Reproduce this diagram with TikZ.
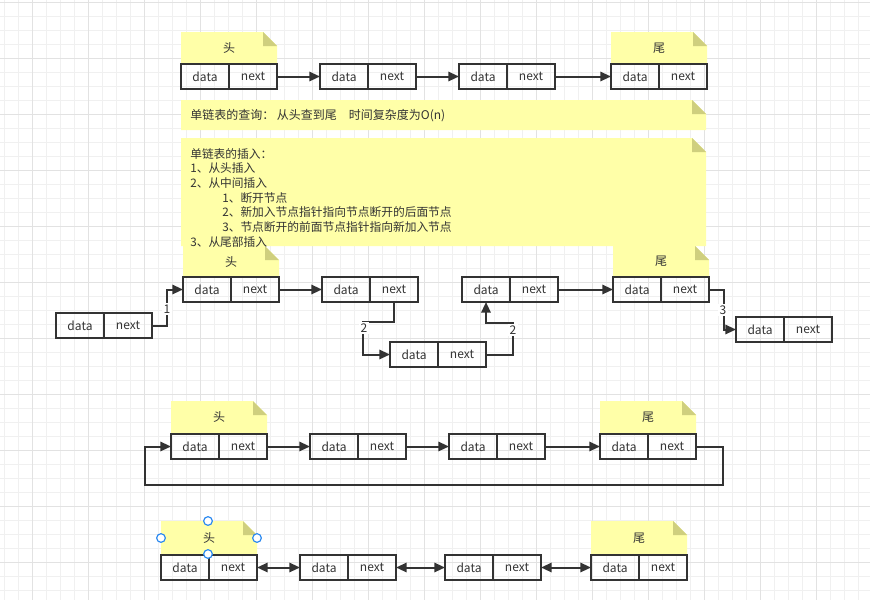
\documentclass[tikz,border=0pt]{standalone}
\usepackage{fontspec}
\setmainfont{Noto Sans CJK SC}
\usetikzlibrary{arrows.meta}
\definecolor{ink}{HTML}{333333}
\definecolor{notey}{HTML}{FFFFA8}
\definecolor{foldy}{HTML}{CFCF7E}
\definecolor{gridminor}{HTML}{F0F0F0}
\definecolor{gridmajor}{HTML}{E2E2E2}
\definecolor{handleblue}{HTML}{2E8BF0}
\tikzset{
  cell/.style={draw=ink, line width=1.5pt, minimum width=36pt, minimum height=18.75pt,
    inner sep=0pt, outer sep=0pt, text=ink, font=\fontsize{9}{11}\selectfont},
  arr/.style={draw=ink, line width=1.5pt, -{Triangle[length=8pt,width=7pt]}},
  darr/.style={draw=ink, line width=1.5pt,
    {Triangle[length=8pt,width=7pt]}-{Triangle[length=8pt,width=7pt]}},
  lbl/.style={fill=white, inner sep=1pt, text=ink, font=\fontsize{9}{11}\selectfont},
  notetext/.style={text=ink, font=\fontsize{9}{11}\selectfont, inner sep=0pt},
  handledot/.style={circle, draw=handleblue, fill=white, line width=0.9pt,
    minimum size=6.5pt, inner sep=0pt},
}
\newcommand\lnode[3]{%
  \node[cell, anchor=north west] (#1d) at (#2,#3) {data};
  \node[cell, anchor=west] (#1n) at (#1d.east) {next};
}
\newcommand\stickynote[4]{%
  \fill[notey] (#1,#2) -- ({#3-14},#2) -- (#3,{#2+14}) -- (#3,#4) -- (#1,#4) -- cycle;
  \fill[foldy] ({#3-14},#2) -- ({#3-14},{#2+14}) -- (#3,{#2+14}) -- cycle;
}
\begin{document}
\begin{tikzpicture}[x=0.75pt, y=-0.75pt]
\useasboundingbox (0,0) rectangle (870,600);
\fill[white] (0,0) rectangle (870,600);
% grid
\foreach \k in {0,...,61} {\draw[gridminor, line width=0.75pt] ({4+14*\k},0) -- ({4+14*\k},600);}
\foreach \k in {0,...,42} {\draw[gridminor, line width=0.75pt] (0,{2+14*\k}) -- (870,{2+14*\k});}
\foreach \k in {0,...,14} {\draw[gridmajor, line width=0.75pt] ({32+56*\k},0) -- ({32+56*\k},600);}
\foreach \k in {0,...,10} {\draw[gridmajor, line width=0.75pt] (0,{2+56*\k}) -- (870,{2+56*\k});}

% ---------- row 1 ----------
\stickynote{181}{32}{277}{64}
\node[notetext] (n1h) at (229,48) {头};
\stickynote{611}{32}{707}{64}
\node[notetext] (n1t) at (659,48) {尾};
\lnode{A}{181}{64}
\lnode{B}{320}{64}
\lnode{C}{459}{64}
\lnode{D}{611}{64}
\draw[arr] (An.east) -- (Bd.west);
\draw[arr] (Bn.east) -- (Cd.west);
\draw[arr] (Cn.east) -- (Dd.west);

% ---------- notes ----------
\stickynote{181}{100}{706}{130}
\node[notetext, anchor=west] (qtext) at (190,116)
  {单链表的查询：\hspace{2pt}从头查到尾\hspace{9pt}时间复杂度为O(n)};
\stickynote{181}{138}{706}{246}

% ---------- row 2 ----------
\stickynote{183}{246}{279}{277}
\node[notetext] (n2h) at (231,262) {头};
\stickynote{613}{246}{709}{277}
\node[notetext] (n2t) at (661,261) {尾};
\node[notetext, anchor=north west, align=left, font=\fontsize{8.8}{11}\selectfont] (itext) at (190,148)
  {单链表的插入：\\
   1、从头插入\\
   2、从中间插入\\
   \hspace*{24pt}1、断开节点\\
   \hspace*{24pt}2、新加入节点指针指向节点断开的后面节点\\
   \hspace*{24pt}3、节点断开的前面节点指针指向新加入节点\\
   3、从尾部插入};
\lnode{H}{183}{277}
\lnode{E}{322}{277}
\lnode{F}{462}{277}
\lnode{G}{613}{277}
\lnode{N}{56}{313}
\lnode{M}{390}{342}
\lnode{T}{736}{317}
\draw[arr] (Hn.east) -- (Ed.west);
\draw[arr] (Fn.east) -- (Gd.west);
\draw[arr] (Nn.east) -- ++(15,0) |- (Hd.west);
\node[lbl] (l1) at (167,309) {1};
\coordinate (c2a) at (363,322);
\draw[arr] (En.south) |- (c2a) |- (Md.west);
\node[lbl] (l2a) at (364,328) {2};
\coordinate (c2b) at (513,323);
\draw[arr] (Mn.east) -| (c2b) -| (Fd.south);
\node[lbl] (l2b) at (513,330) {2};
\draw[arr] (Gn.east) -- ++(15,0) |- (Td.west);
\node[lbl] (l3) at (723,310) {3};

% ---------- row 3 (circular) ----------
\stickynote{171}{401}{267}{434}
\node[notetext] (n3h) at (219,417) {头};
\stickynote{600}{401}{696}{434}
\node[notetext] (n3t) at (648,417) {尾};
\lnode{P}{171}{434}
\lnode{Q}{310}{434}
\lnode{R}{449}{434}
\lnode{S}{600}{434}
\draw[arr] (Pn.east) -- (Qd.west);
\draw[arr] (Qn.east) -- (Rd.west);
\draw[arr] (Rn.east) -- (Sd.west);
\coordinate (loopR) at (723,485);
\coordinate (loopL) at (145,485);
\draw[arr] (Sn.east) -| (loopR) -- (loopL) |- (Pd.west);

% ---------- row 4 (double) ----------
\stickynote{161}{521}{257}{555}
\node[notetext] (n4h) at (209,538) {头};
\stickynote{591}{521}{687}{555}
\node[notetext] (n4t) at (639,538) {尾};
\lnode{U}{161}{555}
\lnode{V}{300}{555}
\lnode{W}{445}{555}
\lnode{X}{591}{555}
\draw[darr] (Un.east) -- (Vd.west);
\draw[darr] (Vn.east) -- (Wd.west);
\draw[darr] (Wn.east) -- (Xd.west);
\node[handledot] (hT) at (208,521) {};
\node[handledot] (hL) at (161,538) {};
\node[handledot] (hR) at (257,538) {};
\node[handledot] (hB) at (208,554) {};
\end{tikzpicture}
\end{document}
